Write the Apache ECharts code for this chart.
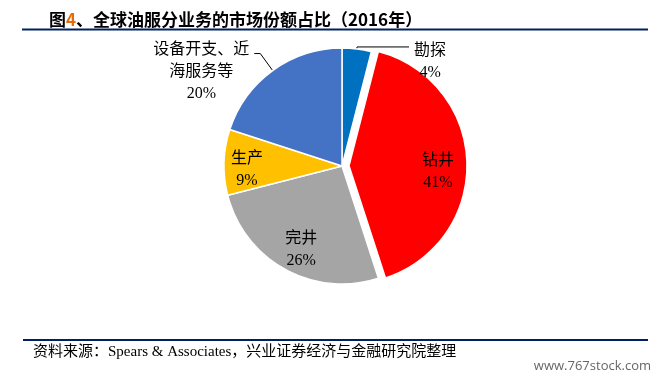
<!DOCTYPE html>
<html>
<head>
<meta charset="utf-8">
<script src="https://cdn.jsdelivr.net/npm/echarts@6/dist/echarts.min.js"></script>
<style>
html,body{margin:0;padding:0;background:#fff;}
#chart{width:665px;height:382px;}
</style>
</head>
<body>
<div id="chart"></div>
<script>
// Data
var categories = ['勘探', '钻井', '完井', '生产', '设备开支、近海服务等'];
var shareValues = [4, 41, 26, 9, 20];
var sliceColors = ['#0070C0', '#FF0000', '#A5A5A5', '#FFC000', '#4472C4'];

var labelFont = "'Liberation Serif', 'Noto Sans CJK SC', serif";
var cjkFont = "'Noto Sans CJK SC', sans-serif";

// per-slice label styling (offsets only)
var labelOffsets = [[0, 0], [27, 8], [-11, 29], [-33, 6], [0, 0]];

var data = categories.map(function (name, i) {
  var item = {
    name: name,
    value: shareValues[i],
    itemStyle: { color: sliceColors[i] }
  };
  if (i === 1) { item.selected = true; }
  if (i === 0) {
    item.label = { position: 'outside', padding: [30, 0, 0, 0] };
    item.labelLine = { show: true, length: 2, length2: 52 };
  } else if (i === 4) {
    item.label = { position: 'outside', padding: [36, 0, 0, 0] };
    item.labelLine = { show: true, length: 21, length2: 6 };
  } else {
    item.label = { position: 'inside' };
    item.labelLine = { show: false };
  }
  return item;
});

var chart = echarts.init(document.getElementById('chart'), null, { renderer: 'canvas' });
chart.setOption({
  backgroundColor: '#fff',
  animation: false,
  title: {
    left: 44,
    top: 6,
    text: '{a|图}{b|4}{a|、全球油服分业务的市场份额占比（2016年）}',
    textStyle: {
      rich: {
        a: { fontSize: 17, fontWeight: 'bold', color: '#000', fontFamily: cjkFont },
        b: { fontSize: 17, fontWeight: 'bold', color: '#E46C0A', fontFamily: cjkFont }
      }
    }
  },
  graphic: [
    { type: 'line', shape: { x1: 22, y1: 29.5, x2: 648, y2: 29.5 }, style: { stroke: '#002060', lineWidth: 2 } },
    { type: 'line', shape: { x1: 23, y1: 340, x2: 648, y2: 340 }, style: { stroke: '#002060', lineWidth: 2 } },
    { type: 'text', x: 33, y: 352, style: { text: '资料来源：Spears & Associates，兴业证券经济与金融研究院整理', fontSize: 15, fontFamily: labelFont, fill: '#000', verticalAlign: 'middle' } },
    { type: 'text', x: 651, y: 366, style: { text: 'www.767stock.com', fontSize: 13, fontFamily: "'Open Sans', sans-serif", fill: '#666', align: 'right', verticalAlign: 'middle' } }
  ],
  series: [{
    type: 'pie',
    center: [342, 166],
    radius: 118,
    startAngle: 90,
    clockwise: true,
    selectedMode: 'single',
    selectedOffset: 7,
    avoidLabelOverlap: false,
    itemStyle: { borderColor: '#fff', borderWidth: 1.5 },
    emphasis: { disabled: true },
    label: {
      show: true,
      formatter: function (p) {
        var n = p.name;
        var lines = n.length > 6 ? [n.slice(0, 6), n.slice(6)] : [n];
        lines.push(p.value + '%');
        return lines.map(function (l) { return '{t|' + l + '}'; }).join('\n');
      },
      rich: {
        t: { fontSize: 16, lineHeight: 22, color: '#000', fontFamily: labelFont, align: 'center' }
      }
    },
    labelLine: { lineStyle: { color: '#000', width: 1 }, smooth: false },
    labelLayout: function (params) {
      var o = labelOffsets[params.dataIndex];
      return { dx: o[0], dy: o[1] };
    },
    data: data
  }]
});
</script>
</body>
</html>
